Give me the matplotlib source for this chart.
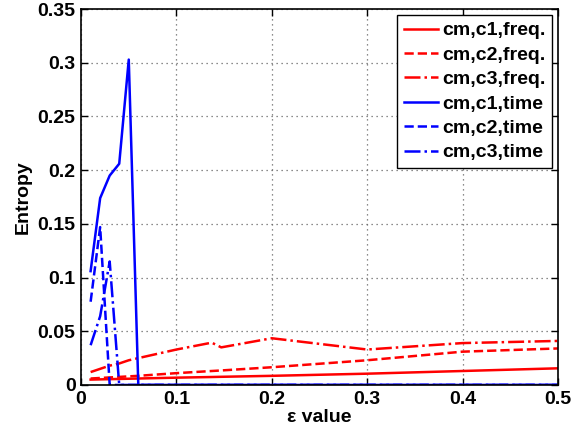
import matplotlib
matplotlib.use("Agg")
import matplotlib.pyplot as plt

plt.rcParams['font.family'] = ['Liberation Sans', 'DejaVu Sans']
plt.rcParams['font.weight'] = 'bold'

# x positions (epsilon values)
x_freq = [0.01, 0.02, 0.03, 0.04, 0.05, 0.06, 0.1, 0.137, 0.147, 0.2, 0.3, 0.4, 0.5]
c1_freq = [0.005, 0.0052, 0.0054, 0.0056, 0.0058, 0.006, 0.0068, 0.0074, 0.0076, 0.0085, 0.0105, 0.013, 0.0155]
c2_freq = [0.006, 0.0065, 0.007, 0.0075, 0.008, 0.0085, 0.011, 0.013, 0.0135, 0.0165, 0.023, 0.031, 0.034]
c3_freq = [0.012, 0.015, 0.018, 0.020, 0.023, 0.025, 0.033, 0.0394, 0.035, 0.0435, 0.033, 0.039, 0.041]

x_time = [0.01, 0.02, 0.03, 0.04, 0.05, 0.06, 0.1, 0.2, 0.3, 0.4, 0.5]
c1_time = [0.106, 0.174, 0.195, 0.206, 0.303, 0.0, 0.0, 0.0, 0.0, 0.0, 0.0]
c2_time = [0.0775, 0.147, 0.0, 0.0, 0.0, 0.0, 0.0, 0.0, 0.0, 0.0, 0.0]
c3_time = [0.037, 0.064, 0.115, 0.0, 0.0, 0.0, 0.0, 0.0, 0.0, 0.0, 0.0]

labels = ['cm,c1,freq.', 'cm,c2,freq.', 'cm,c3,freq.', 'cm,c1,time', 'cm,c2,time', 'cm,c3,time']

fig = plt.figure(figsize=(5.71, 4.34), dpi=100)
ax = fig.add_axes([0.142, 0.113, 0.835, 0.866])

lw = 1.8
ax.plot(x_freq, c1_freq, color='red', linestyle='-', lw=lw, label=labels[0])
ax.plot(x_freq, c2_freq, color='red', linestyle='--', lw=lw, label=labels[1])
ax.plot(x_freq, c3_freq, color='red', linestyle='-.', lw=lw, label=labels[2])
ax.plot(x_time, c1_time, color='blue', linestyle='-', lw=lw, label=labels[3])
ax.plot(x_time, c2_time, color='blue', linestyle='--', lw=lw, label=labels[4])
ax.plot(x_time, c3_time, color='blue', linestyle='-.', lw=lw, label=labels[5])

ax.set_xlim(0, 0.5)
ax.set_ylim(0, 0.35)
ax.set_xticks([0, 0.1, 0.2, 0.3, 0.4, 0.5])
ax.set_xticklabels(['0', '0.1', '0.2', '0.3', '0.4', '0.5'])
ax.set_yticks([0, 0.05, 0.1, 0.15, 0.2, 0.25, 0.3, 0.35])
ax.set_yticklabels(['0', '0.05', '0.1', '0.15', '0.2', '0.25', '0.3', '0.35'])
ax.tick_params(direction='in', top=True, right=True, labelsize=14, length=5, width=1, pad=4)
ax.grid(True, linestyle=(0, (1, 3)), color='#666666', linewidth=0.9)
for s in ax.spines.values():
    s.set_linewidth(1.2)

ax.set_xlabel('ε value', fontsize=14, fontweight='bold', labelpad=1)
ax.set_ylabel('Entropy', fontsize=14, fontweight='bold', labelpad=4)

leg = ax.legend(loc='upper right', fontsize=14, frameon=True, fancybox=False,
                edgecolor='black', framealpha=1, handlelength=1.75, handletextpad=0.2,
                labelspacing=0.35, borderpad=0.35, borderaxespad=0.3)
leg.get_frame().set_linewidth(1.0)
for t in leg.get_texts():
    t.set_fontweight('bold')

fig.savefig('out.png', dpi=100)
